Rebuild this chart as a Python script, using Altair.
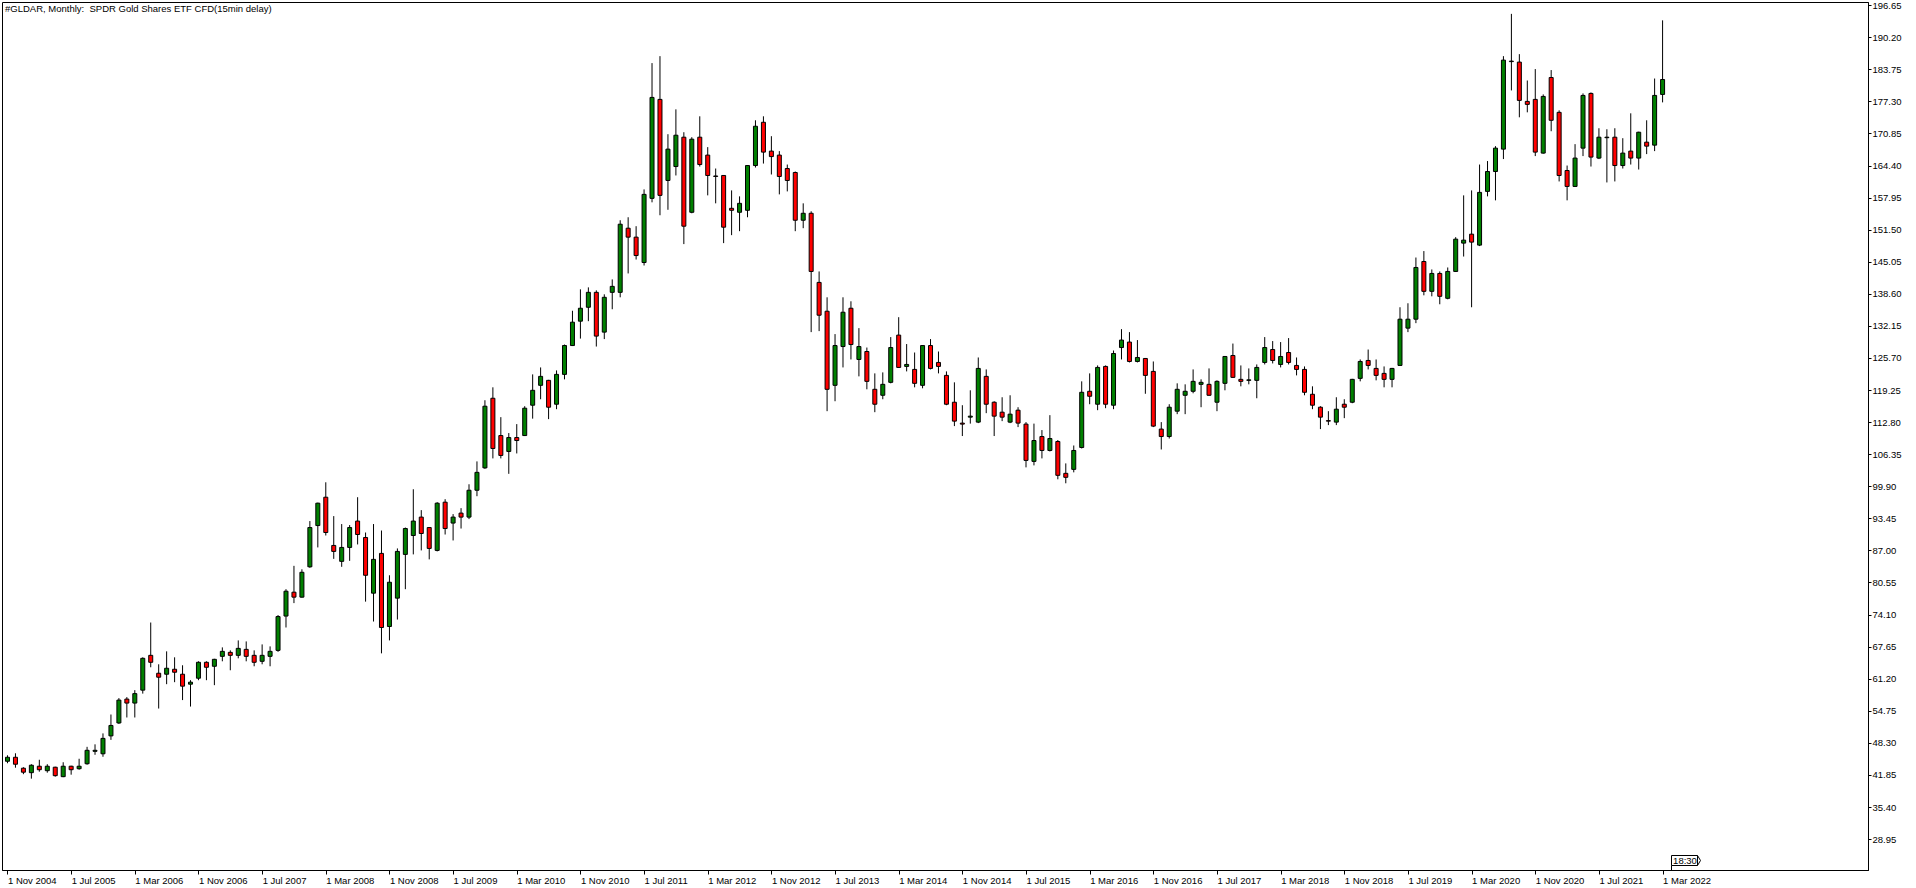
import altair as alt
import pandas as pd

TITLE = "#GLDAR, Monthly: \u00a0SPDR Gold Shares ETF CFD(15min delay)"
TIME_LABEL = "18:30"

# Monthly candles, Nov 2004 ... Mar 2022
opens = [44.3, 45.1, 42.9, 42.0, 43.3, 42.4, 43.1, 41.2, 43.3, 42.8,
         43.8, 46.3, 45.8, 49.4, 52.0, 56.8, 56.0, 58.6, 65.6, 62.0,
         61.8, 62.8, 61.8, 59.8, 61.0, 64.2, 63.4, 65.4, 66.2, 65.6,
         66.8, 65.6, 64.4, 65.4, 66.6, 73.5, 78.3, 77.3, 83.4, 91.7,
         97.4, 87.7, 84.5, 87.3, 92.6, 89.3, 78.1, 86.1, 71.4, 77.1,
         85.9, 89.7, 93.4, 91.3, 86.7, 96.4, 92.2, 94.2, 93.4, 98.8,
         103.3, 117.3, 109.8, 106.6, 109.4, 109.8, 115.9, 119.9, 120.9, 116.1,
         122.1, 127.9, 132.8, 135.6, 138.6, 130.6, 138.6, 138.6, 151.5, 149.7,
         144.6, 157.5, 177.4, 161.1, 163.9, 169.8, 154.7, 169.8, 166.2, 162.0,
         162.1, 155.5, 154.7, 155.1, 164.1, 172.8, 167.0, 166.2, 163.5, 162.7,
         153.1, 154.5, 140.6, 134.8, 119.9, 127.7, 135.4, 125.1, 126.7, 119.1,
         117.9, 120.5, 130.0, 123.7, 123.1, 119.9, 127.9, 124.5, 121.9, 116.5,
         112.3, 113.5, 112.5, 121.7, 116.5, 114.5, 112.5, 114.9, 112.1, 104.6,
         109.6, 106.8, 108.6, 102.2, 103.0, 107.4, 118.7, 116.1, 123.7, 115.9,
         127.5, 128.6, 124.7, 125.3, 122.7, 111.1, 109.6, 114.7, 117.9, 118.7,
         120.1, 120.1, 116.5, 120.3, 125.9, 121.1, 120.9, 120.9, 124.5, 127.1,
         124.1, 126.5, 123.9, 123.1, 118.1, 115.5, 112.8, 112.5, 116.1, 116.5,
         121.3, 124.9, 123.3, 122.3, 121.1, 123.9, 131.4, 133.2, 144.8, 138.8,
         142.4, 137.4, 142.8, 148.5, 150.3, 148.1, 158.9, 162.9, 167.4, 185.0,
         184.9, 177.0, 177.4, 166.6, 181.8, 174.8, 163.1, 159.9, 167.6, 178.6,
         165.6, 169.7, 169.8, 164.1, 167.0, 165.6, 168.8, 168.2, 178.4]
highs = [45.5, 45.9, 43.1, 43.7, 44.6, 43.7, 43.2, 44.1, 43.4, 44.8,
         47.2, 47.7, 49.9, 53.7, 57.0, 57.2, 58.6, 65.2, 72.2, 63.8,
         66.4, 65.2, 63.6, 60.6, 64.4, 64.4, 64.9, 67.2, 66.6, 68.6,
         68.4, 66.6, 67.8, 67.4, 73.7, 78.9, 83.6, 82.9, 92.6, 96.3,
         100.4, 93.6, 92.0, 91.8, 97.4, 90.3, 92.0, 90.7, 81.7, 87.1,
         91.3, 99.0, 94.8, 91.4, 96.4, 97.0, 94.0, 95.2, 100.0, 104.6,
         116.9, 119.5, 113.5, 110.3, 112.1, 115.7, 122.1, 123.5, 121.0, 122.9,
         128.1, 134.9, 139.2, 139.6, 139.0, 138.2, 141.2, 153.1, 153.7, 151.9,
         159.3, 184.7, 186.1, 170.4, 175.4, 170.8, 169.8, 174.0, 167.8, 163.5,
         162.2, 159.1, 157.9, 164.2, 173.2, 174.0, 170.0, 167.0, 164.3, 162.9,
         156.5, 154.9, 142.8, 137.6, 130.2, 137.6, 136.8, 131.4, 127.5, 122.3,
         122.5, 129.6, 133.6, 128.2, 126.5, 128.0, 129.2, 126.7, 122.7, 120.5,
         115.9, 118.9, 125.5, 123.1, 116.7, 117.5, 117.9, 115.5, 112.5, 112.2,
         110.9, 113.9, 108.9, 104.2, 107.8, 120.7, 122.3, 123.9, 123.9, 126.9,
         131.2, 130.6, 129.0, 125.4, 124.7, 112.5, 116.1, 120.3, 120.1, 123.1,
         121.1, 123.3, 120.9, 125.8, 128.3, 123.9, 123.3, 124.1, 129.6, 128.8,
         128.6, 129.4, 125.5, 123.7, 119.7, 115.7, 114.7, 117.5, 117.1, 121.2,
         125.1, 127.1, 125.1, 123.7, 123.4, 135.6, 136.4, 145.6, 146.9, 143.2,
         142.8, 143.6, 149.7, 158.1, 159.1, 164.3, 165.0, 168.0, 186.1, 194.6,
         186.5, 181.2, 183.5, 178.4, 183.3, 175.2, 164.1, 168.4, 178.6, 178.8,
         171.6, 171.4, 171.6, 169.6, 174.6, 170.9, 173.2, 181.6, 193.3]
lows = [43.9, 43.0, 41.7, 40.8, 42.2, 42.0, 41.2, 41.1, 41.6, 42.6,
        43.6, 45.6, 45.2, 48.6, 51.8, 53.1, 53.1, 57.9, 63.2, 54.9,
        59.8, 60.2, 56.6, 55.3, 60.6, 60.6, 59.6, 64.4, 62.6, 65.0,
        64.4, 63.4, 63.8, 63.4, 66.3, 71.2, 76.1, 77.2, 83.2, 87.3,
        89.7, 85.0, 83.4, 84.6, 87.9, 76.4, 72.4, 66.0, 68.6, 72.8,
        78.9, 85.9, 86.7, 84.9, 86.5, 89.9, 88.7, 91.1, 93.0, 97.6,
        103.1, 105.2, 105.2, 102.1, 106.2, 109.7, 113.2, 117.1, 113.1, 115.1,
        121.1, 127.8, 129.3, 132.8, 127.7, 129.2, 135.2, 137.6, 142.4, 145.2,
        144.0, 156.7, 154.1, 155.2, 162.1, 148.3, 154.5, 163.9, 158.1, 156.5,
        148.5, 150.1, 150.9, 153.7, 163.7, 164.5, 162.3, 158.3, 158.9, 150.9,
        151.5, 130.6, 130.8, 114.7, 116.7, 123.5, 125.1, 121.7, 119.1, 114.5,
        117.1, 120.3, 123.4, 122.7, 119.5, 119.3, 123.1, 122.3, 115.9, 111.7,
        109.7, 112.2, 112.3, 114.3, 109.7, 112.7, 112.3, 111.5, 103.4, 103.8,
        105.2, 106.6, 101.0, 100.2, 102.4, 107.2, 116.1, 114.9, 115.3, 115.1,
        125.1, 124.5, 124.5, 118.2, 111.5, 107.0, 109.2, 114.1, 114.1, 118.3,
        115.5, 117.8, 114.7, 118.9, 121.4, 119.7, 120.1, 117.3, 124.1, 124.3,
        123.5, 124.1, 121.9, 117.9, 115.1, 111.1, 111.9, 111.9, 113.3, 116.3,
        120.7, 123.1, 120.9, 119.5, 119.5, 123.8, 130.6, 132.4, 138.0, 137.8,
        136.2, 137.2, 142.7, 145.8, 135.6, 147.9, 157.9, 157.1, 165.4, 179.2,
        173.8, 174.8, 166.0, 166.5, 171.0, 160.9, 157.1, 159.8, 166.0, 163.9,
        165.4, 160.7, 160.9, 163.5, 164.3, 163.3, 166.4, 167.0, 176.8]
closes = [45.1, 43.7, 42.1, 43.5, 42.6, 43.3, 41.4, 43.3, 42.6, 43.3,
          46.5, 46.5, 48.9, 51.5, 56.6, 56.0, 57.9, 65.0, 64.2, 61.2,
          63.0, 62.2, 59.4, 60.2, 64.2, 63.2, 64.8, 66.4, 65.6, 67.0,
          65.4, 64.2, 65.6, 66.4, 73.4, 78.5, 77.3, 82.3, 91.3, 96.2,
          90.3, 86.5, 87.3, 91.3, 89.9, 81.7, 84.9, 71.2, 80.3, 86.5,
          91.1, 92.6, 90.1, 87.1, 96.2, 91.1, 93.4, 93.4, 98.8, 102.4,
          115.7, 107.2, 105.8, 109.4, 108.8, 115.3, 118.9, 121.7, 115.5, 122.1,
          127.9, 132.6, 135.4, 138.6, 129.8, 137.6, 139.8, 152.3, 149.7, 146.0,
          158.3, 177.8, 158.1, 167.4, 170.2, 151.9, 169.4, 164.3, 162.1, 161.9,
          151.7, 155.1, 156.5, 164.1, 172.0, 166.8, 165.9, 161.9, 161.1, 153.1,
          154.5, 142.8, 134.0, 119.1, 127.9, 134.6, 128.1, 127.7, 120.7, 116.1,
          120.1, 127.5, 123.5, 124.1, 120.3, 127.9, 123.3, 123.7, 116.1, 112.7,
          112.1, 113.7, 123.3, 116.1, 113.7, 113.5, 114.1, 112.3, 104.8, 108.8,
          106.8, 109.2, 101.8, 101.4, 106.8, 118.5, 117.7, 123.5, 116.1, 126.3,
          129.0, 124.7, 125.5, 121.9, 111.7, 109.6, 115.5, 119.1, 118.7, 120.7,
          120.5, 117.9, 120.7, 125.7, 121.5, 120.7, 121.0, 123.5, 127.5, 124.9,
          125.7, 124.5, 123.1, 118.5, 115.9, 113.5, 112.7, 115.1, 115.5, 121.1,
          124.7, 123.9, 121.9, 121.1, 123.3, 133.2, 133.2, 143.6, 138.8, 142.4,
          137.8, 142.8, 149.3, 149.1, 148.7, 158.7, 162.9, 167.6, 185.3, 185.1,
          177.2, 176.4, 166.8, 178.0, 173.2, 162.1, 159.9, 165.6, 178.2, 165.8,
          169.8, 169.8, 164.1, 166.6, 165.6, 170.8, 168.0, 178.2, 181.4]

date_labels = ["1 Nov 2004", "1 Jul 2005", "1 Mar 2006", "1 Nov 2006", "1 Jul 2007",
               "1 Mar 2008", "1 Nov 2008", "1 Jul 2009", "1 Mar 2010", "1 Nov 2010",
               "1 Jul 2011", "1 Mar 2012", "1 Nov 2012", "1 Jul 2013", "1 Mar 2014",
               "1 Nov 2014", "1 Jul 2015", "1 Mar 2016", "1 Nov 2016", "1 Jul 2017",
               "1 Mar 2018", "1 Nov 2018", "1 Jul 2019", "1 Mar 2020", "1 Nov 2020",
               "1 Jul 2021", "1 Mar 2022"]
price_ticks = [196.65, 190.20, 183.75, 177.30, 170.85, 164.40, 157.95, 151.50,
               145.05, 138.60, 132.15, 125.70, 119.25, 112.80, 106.35, 99.90,
               93.45, 87.00, 80.55, 74.10, 67.65, 61.20, 54.75, 48.30, 41.85,
               35.40, 28.95]

n = len(opens)
df = pd.DataFrame({
    "i": list(range(n)),
    "open": opens, "high": highs, "low": lows, "close": closes,
})
df["dir"] = ["down" if c < o else "up" for o, c in zip(opens, closes)]

FONT = "Liberation Sans"
W, H = 1866, 868
label_arr = "[" + ",".join("'" + s + "'" for s in date_labels) + "]"

x_enc = alt.X(
    "i:Q",
    scale=alt.Scale(domain=[-0.0625, 233.1875], nice=False, zero=False),
    axis=alt.Axis(values=list(range(0, 8 * len(date_labels), 8)),
                  labelExpr=label_arr + "[round(datum.value/8)]",
                  labelAlign="left", labelBaseline="top", labelPadding=1,
                  tickSize=4, grid=False, title=None, labelFont=FONT, labelFontSize=9.5,
                  labelColor="black", tickColor="black", domainColor="black",
                  labelFlush=False, labelOverlap=False, labelBound=False),
)
y_scale = alt.Scale(domain=[22.43, 196.988], nice=False, zero=False)
y_axis = alt.Axis(orient="right", values=price_ticks, format=".2f", tickSize=3,
                  tickOffset=1.5, labelPadding=1, grid=False, title=None,
                  labelFont=FONT, labelFontSize=9.5, labelColor="black",
                  tickColor="black", domainColor="black", labelFlush=False,
                  labelOverlap=False, labelBound=False)

base = alt.Chart(df)
wicks = base.mark_rule(color="black", strokeWidth=1).encode(
    x=x_enc,
    y=alt.Y("low:Q", scale=y_scale, axis=y_axis),
    y2="high:Q",
)
bodies = base.mark_bar(size=4, stroke="black", strokeWidth=1).encode(
    x=x_enc,
    y=alt.Y("open:Q", scale=y_scale, axis=y_axis),
    y2="close:Q",
    color=alt.Color("dir:N", scale=alt.Scale(domain=["up", "down"],
                                            range=["#008000", "#ff0000"]),
                    legend=None),
)
title = alt.Chart(pd.DataFrame({"t": [TITLE]})).mark_text(
    align="left", baseline="middle", font=FONT, fontSize=9.5, color="black"
).encode(text="t:N", x=alt.value(3), y=alt.value(7))

# current-time marker box at the bottom
time_df = pd.DataFrame({"t": [TIME_LABEL]})
time_box = alt.Chart(time_df).mark_rect(
    fill="white", stroke="black", strokeWidth=1
).encode(x=alt.value(1669.5), x2=alt.value(1695.5), y=alt.value(853.5), y2=alt.value(863.5))
tip_a = alt.Chart(time_df).mark_rule(color="black", strokeWidth=1).encode(
    x=alt.value(1695.5), x2=alt.value(1698.5), y=alt.value(853.5), y2=alt.value(858.5))
tip_b = alt.Chart(time_df).mark_rule(color="black", strokeWidth=1).encode(
    x=alt.value(1695.5), x2=alt.value(1698.5), y=alt.value(863.5), y2=alt.value(858.5))
stem = alt.Chart(time_df).mark_rule(color="black", strokeWidth=1).encode(
    x=alt.value(1669.5), y=alt.value(863.5), y2=alt.value(868))
time_txt = alt.Chart(time_df).mark_text(
    align="center", baseline="middle", font=FONT, fontSize=9.5, color="black"
).encode(text="t:N", x=alt.value(1683), y=alt.value(858.5))

chart = alt.layer(wicks, bodies, title, time_box, tip_a, tip_b, stem, time_txt).properties(
    width=W, height=H,
    autosize=alt.AutoSizeParams(type="none"),
    padding={"left": 2, "top": 2, "right": 48, "bottom": 18},
    background="white",
).configure_view(stroke="black", strokeWidth=1)

chart.save("out.html", embed_options={"renderer": "svg", "actions": False})
